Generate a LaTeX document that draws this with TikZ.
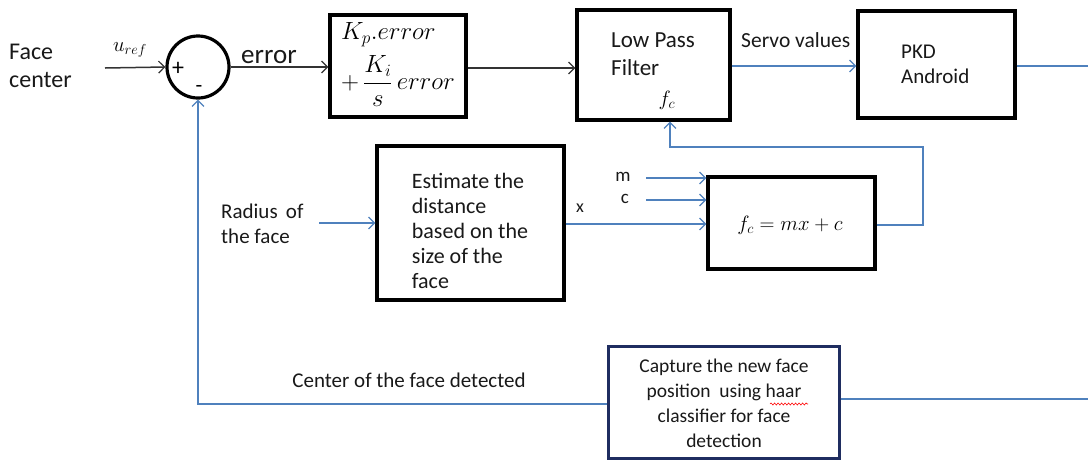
\documentclass[tikz,border=0pt]{standalone}
\usepackage{fontspec}
\setmainfont{Carlito}
\usetikzlibrary{arrows.meta,decorations.pathmorphing}
\definecolor{linkblue}{RGB}{79,129,189}
\definecolor{navy}{RGB}{31,45,96}
\tikzset{
  blockbox/.style={draw=black, line width=3.2pt, fill=white, inner sep=0pt},
  sumnode/.style={draw=black, line width=3.2pt, circle, minimum size=62pt, inner sep=0pt},
  sig/.style={draw=black!80, line width=1.5pt, -{Straight Barb[length=6pt,width=12pt,line width=1.2pt]}},
  bluesig/.style={draw=linkblue, line width=1.4pt, -{Straight Barb[length=6pt,width=12pt,line width=1.2pt]}},
  blueline/.style={draw=linkblue, line width=1.4pt},
  txt/.style={inner sep=0pt, font=\fontsize{21}{25}\selectfont, text=black!90},
}
\begin{document}
\begin{tikzpicture}[x=1pt,y=-1pt]
\useasboundingbox (0,0) rectangle (1088,459);

% forward path
\node[txt, align=left, anchor=west, font=\fontsize{24}{28}\selectfont] (face) at (9,66) {Face\\center};
\node[sumnode] (sum) at (198,67) {};
\node[inner sep=0pt, font=\fontsize{24}{24}\selectfont] (plus) at (178,69) {+};
\node[inner sep=0pt, font=\fontsize{22}{22}\selectfont] (minus) at (199,89) {-};
\coordinate (uin) at (105,68);
\node[inner sep=0pt, font=\fontsize{20}{20}\selectfont] (uref) at (130,50) {$u_{ref}$};
\draw[sig] (uin) -- (sum.west);

\node[blockbox, minimum width=136pt, minimum height=102pt] (pi) at (398,66) {};
\node[inner sep=0pt, font=\fontsize{23}{24}\selectfont, anchor=west] (pitop) at (341,35) {$K_p.error$};
\node[inner sep=0pt, font=\fontsize{23}{24}\selectfont, anchor=west] (pibot) at (341,81) {$\displaystyle +\,\frac{K_i}{s}\,error$};
\node[txt, font=\fontsize{27}{27}\selectfont, anchor=base west] (err) at (241,63) {error};
\draw[sig] (sum.east) -- (pi.west |- sum.east);

\node[blockbox, minimum width=153pt, minimum height=110pt] (lpf) at (653.5,65) {};
\node[txt, align=left, anchor=west, font=\fontsize{23}{28}\selectfont] (lpftxt) at (611,54) {Low Pass\\Filter};
\node[inner sep=0pt, font=\fontsize{21}{21}\selectfont] (fcin) at (667,100) {$f_c$};
\draw[sig] (pi.east |- 0,68) -- (lpf.west |- 0,68);

\node[blockbox, minimum width=157pt, minimum height=107pt] (pkd) at (936.5,64.5) {};
\node[txt, align=left, anchor=west] (pkdtxt) at (901,64) {PKD\\Android};
\node[txt, font=\fontsize{21.5}{21.5}\selectfont, anchor=base west] (servo) at (741,47) {Servo values};
\draw[bluesig] (lpf.east |- 0,66) -- (pkd.west |- 0,66);
\coordinate (pkdout) at (1088,66);
\draw[blueline] (pkd.east |- pkdout) -- (pkdout);

% cut-off frequency estimation
\node[blockbox, minimum width=187pt, minimum height=154pt] (est) at (470.5,223) {};
\node[txt, align=left, font=\fontsize{22}{25}\selectfont] (esttxt) at (470,231)
  {Estimate the\\distance\\based on the\\size of the\\face};
\node[txt, align=left, anchor=west] (radius) at (221,224) {Radius \,of\\the face};
\coordinate (rin) at (319,223);
\draw[bluesig] (rin) -- (est.west |- rin);

\node[blockbox, minimum width=167pt, minimum height=92pt] (fc) at (791.5,223) {};
\node[inner sep=0pt, font=\fontsize{20}{20}\selectfont] (fceq) at (790,225) {$f_c = mx + c$};
\node[txt, font=\fontsize{18}{18}\selectfont] (xlab) at (580,208) {x};
\node[txt, font=\fontsize{19}{19}\selectfont] (mlab) at (623,177) {m};
\node[txt, font=\fontsize{19}{19}\selectfont] (clab) at (625,199) {c};
\coordinate (min) at (646,178);
\coordinate (cin) at (646,200);
\draw[bluesig] (est.east |- 0,224) -- (fc.west |- 0,224);
\draw[bluesig] (min) -- (fc.west |- min);
\draw[bluesig] (cin) -- (fc.west |- cin);
\draw[bluesig] (fc.east |- 0,225) -- (923,225) -- (923,147) -- (670,147) -- (lpf.south -| 670,0);

% measurement feedback
\node[draw=navy, line width=3pt, fill=white, minimum width=231pt, minimum height=112pt, inner sep=0pt] (cap) at (723.5,402) {};
\node[txt, align=center, font=\fontsize{19.5}{25}\selectfont] (captxt) at (724,403)
  {Capture the new face\\position \ using haar\\classifier for face\\detection};
\draw[red, line width=0.6pt, decorate, decoration={snake, amplitude=1pt, segment length=3.5pt}] (770,404) -- (808,404);
\node[txt] (centerlab) at (409,380) {Center of the face detected};
\coordinate (capout) at (1088,399);
\draw[blueline] (cap.east |- capout) -- (capout);
\draw[bluesig] (cap.west |- 0,404) -- (198,404) -- (sum.south);
\end{tikzpicture}
\end{document}
